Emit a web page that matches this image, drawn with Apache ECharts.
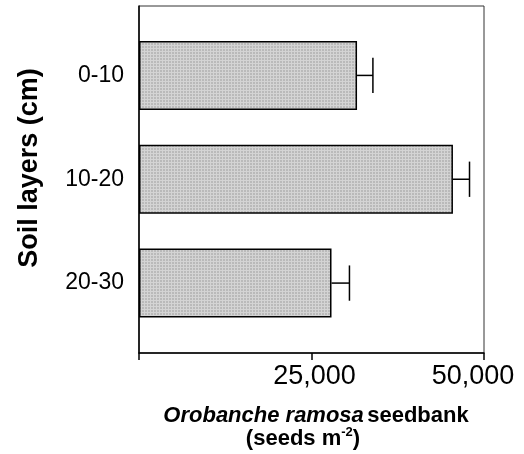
<!DOCTYPE html>
<html>
<head>
<meta charset="utf-8">
<script src="https://cdn.jsdelivr.net/npm/echarts@6/dist/echarts.min.js"></script>
<style>
html,body{margin:0;padding:0;background:#fff;}
#chart{width:524px;height:454px;}
</style>
</head>
<body>
<div id="chart"></div>
<script>
const categories = ['0-10', '10-20', '20-30'];
const seedbank = [31600, 45500, 27900];
const seedbankErr = [2300, 2400, 2600];
const xTickValues = [0, 25000, 50000];
const xTickLabels = ['', '25,000', '50,000'];

const FONT = '"Liberation Sans", Arial, sans-serif';

// texture for bars
const pat = document.createElement('canvas');
pat.width = 3; pat.height = 3;
const pc = pat.getContext('2d');
pc.fillStyle = '#bababa'; pc.fillRect(0, 0, 3, 3);
pc.fillStyle = '#d4d4d4'; pc.fillRect(0, 0, 3, 1); pc.fillRect(0, 0, 1, 3);

const chart = echarts.init(document.getElementById('chart'), null, {renderer: 'canvas'});

const option = {
  backgroundColor: '#fff',
  animation: false,
  grid: [
    {left: 139, right: 40, top: 6, bottom: 101, show: true, borderColor: '#333', borderWidth: 1, backgroundColor: 'transparent'},
    {left: 139, right: 40, top: 23.5, bottom: 119}
  ],
  xAxis: [
    {
      gridIndex: 0, type: 'value', min: 0, max: 50000, interval: 25000,
      axisLine: {show: true, lineStyle: {color: '#000', width: 1.5}},
      axisTick: {show: true, length: 7, lineStyle: {color: '#000', width: 1.5}},
      splitLine: {show: false},
      axisLabel: {
        margin: 10,
        color: '#000', fontFamily: FONT, fontSize: 27,
        formatter: function (v) {
          const i = xTickValues.indexOf(v);
          if (i <= 0) return '';
          return '{t' + i + '|' + xTickLabels[i] + '}';
        },
        rich: {
          t1: {fontFamily: FONT, fontSize: 27, color: '#000', padding: [0, 0, 0, 6]},
          t2: {fontFamily: FONT, fontSize: 27, color: '#000', padding: [0, 22, 0, 0]}
        }
      }
    },
    {gridIndex: 1, type: 'value', min: 0, max: 50000, show: false}
  ],
  yAxis: [
    {
      gridIndex: 0, type: 'value', min: 0, max: 1,
      axisLine: {show: true, lineStyle: {color: '#000', width: 1.5}},
      axisTick: {show: false}, axisLabel: {show: false}, splitLine: {show: false}
    },
    {
      gridIndex: 1, type: 'category', inverse: true, data: categories,
      axisLine: {show: false}, axisTick: {show: false}, splitLine: {show: false},
      axisLabel: {margin: 15, color: '#000', fontFamily: FONT, fontSize: 23}
    }
  ],
  graphic: [
    {
      type: 'text', x: 30, y: 168, rotation: Math.PI / 2,
      style: {text: 'Soil layers (cm)', fill: '#000', font: 'bold 27px ' + FONT, align: 'center', verticalAlign: 'middle'}
    },
    {
      type: 'text', x: 316, y: 416,
      style: {
        text: '{i|Orobanche ramosa} {b|seedbank}', align: 'center', verticalAlign: 'middle',
        rich: {
          i: {fontFamily: FONT, fontSize: 22, fontWeight: 'bold', fontStyle: 'italic', fill: '#000', color: '#000'},
          b: {fontFamily: FONT, fontSize: 22, fontWeight: 'bold', fill: '#000', color: '#000'}
        }
      }
    },
    {
      type: 'text', x: 303, y: 439,
      style: {
        text: '{b|(seeds m}{s|-2}{b|)}', align: 'center', verticalAlign: 'middle',
        rich: {
          b: {fontFamily: FONT, fontSize: 22, fontWeight: 'bold', fill: '#000', color: '#000', lineHeight: 26},
          s: {fontFamily: FONT, fontSize: 13, fontWeight: 'bold', fill: '#000', color: '#000', verticalAlign: 'top'}
        }
      }
    }
  ],
  series: [
    {
      type: 'bar', xAxisIndex: 1, yAxisIndex: 1,
      data: seedbank,
      barWidth: 69,
      itemStyle: {color: {image: pat, repeat: 'repeat'}, borderColor: '#000', borderWidth: 1.5},
      z: 2
    },
    {
      type: 'custom', xAxisIndex: 1, yAxisIndex: 1,
      data: seedbank.map((v, i) => [v, i, seedbankErr[i]]),
      encode: {x: 0, y: 1},
      z: 3,
      renderItem: function (params, api) {
        const v = api.value(0), c = api.value(1), e = api.value(2);
        const p0 = api.coord([v, c]);
        const p1 = api.coord([v + e, c]);
        const h = api.size([0, 1])[1] * 0.34;
        const st = {stroke: '#000', lineWidth: 1.5};
        return {
          type: 'group', children: [
            {type: 'line', shape: {x1: p0[0], y1: p0[1], x2: p1[0], y2: p1[1]}, style: st},
            {type: 'line', shape: {x1: p1[0], y1: p1[1] - h / 2, x2: p1[0], y2: p1[1] + h / 2}, style: st}
          ]
        };
      }
    }
  ]
};
chart.setOption(option);
</script>
</body>
</html>
